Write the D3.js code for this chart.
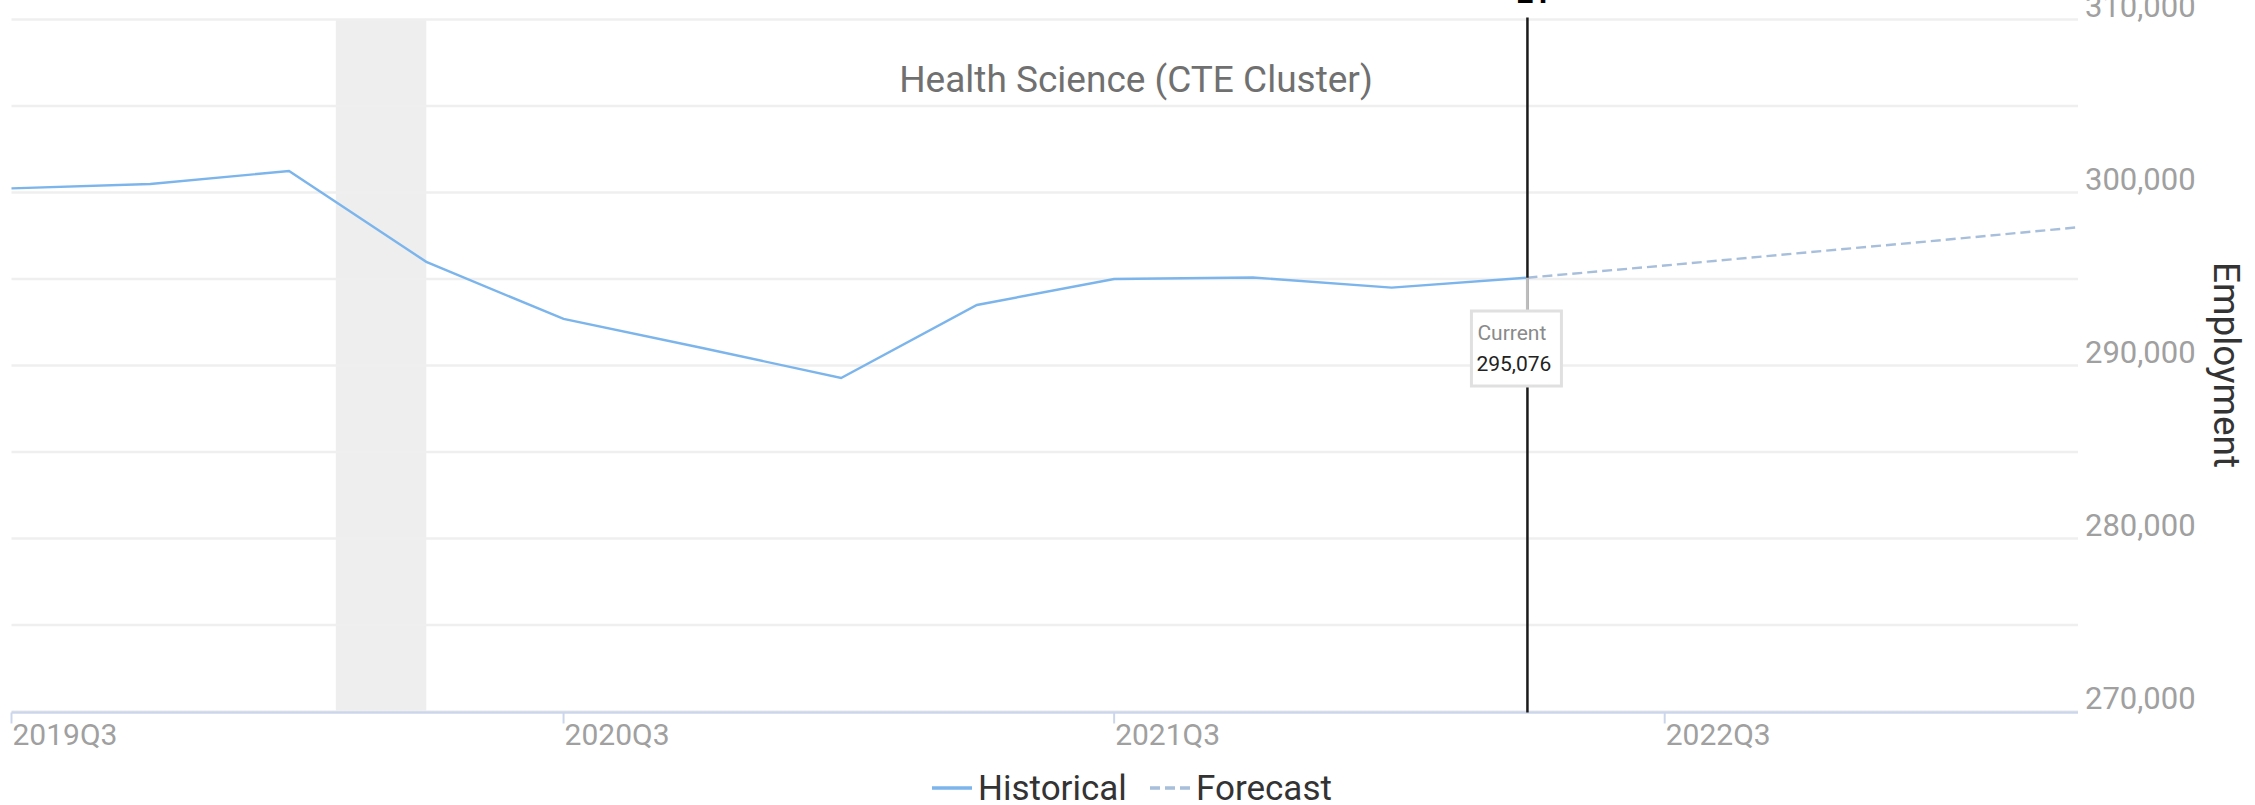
<!DOCTYPE html>
<meta charset="utf-8">
<title>Health Science (CTE Cluster)</title>
<style>
body {
  margin: 0px;
  background: #fff;
}
svg text {
  font-family: Roboto, "Open Sans", sans-serif;
}
.grid line {
  stroke: #efefef;
  stroke-width: 2.5;
}
.ytick {
  fill: #a0a0a0;
  font-size: 31px;
}
.xtick {
  fill: #a0a0a0;
  font-size: 30px;
}
path.hist {
  fill: none;
  stroke: #7cb5ec;
  stroke-width: 2.4;
}
path.fcst {
  fill: none;
  stroke: #a8bfdc;
  stroke-width: 2.4;
  stroke-dasharray: 10, 5;
}
</style>
<script src="https://d3js.org/d3.v7.min.js"></script>
<body>
<script>
var width = 2255, height = 805;

// historical quarters and employment
var histQuarters = ["2019Q3", "2019Q4", "2020Q1", "2020Q2", "2020Q3", "2020Q4",
                    "2021Q1", "2021Q2", "2021Q3", "2021Q4", "2022Q1", "2022Q2"];
var histValues = [300240, 300490, 301240, 295990, 292690, 291010,
                  289280, 293500, 295000, 295090, 294500, 295076];
// forecast continues from the current quarter
var fcstQuarters = ["2022Q2", "2022Q3", "2022Q4", "2023Q1", "2023Q2"];
var fcstValues = [295076, 295780, 296520, 297250, 297990];

var yTicks = [270000, 280000, 290000, 300000, 310000];
var gridTicks = [270000, 275000, 280000, 285000, 290000, 295000, 300000, 305000, 310000];
var xTickLabels = ["2019Q3", "2020Q3", "2021Q3", "2022Q3"];
var currentQuarter = "2022Q2";
var currentValue = 295076;

function qDate(q) {
  return new Date(+q.slice(0, 4), (+q.slice(5) - 1) * 3, 1);
}

var plotL = 11.5, plotR = 2078, plotT = 19.5, plotB = 711.5;

var x = d3.scaleTime()
    .domain([qDate("2019Q3"), qDate("2023Q2")])
    .range([plotL, plotR]);
var y = d3.scaleLinear()
    .domain([270000, 310000])
    .range([plotB, plotT]);

var svg = d3.select("body").append("svg")
    .attr("width", width)
    .attr("height", height);

// recession band (Feb - Apr 2020)
svg.append("rect")
    .attr("x", x(new Date(2020, 1, 1)))
    .attr("y", plotT)
    .attr("width", x(new Date(2020, 3, 1)) - x(new Date(2020, 1, 1)))
    .attr("height", plotB - plotT)
    .attr("fill", "#eeeeee");

// grid
svg.append("g").attr("class", "grid")
  .selectAll("line")
    .data(gridTicks)
  .enter().append("line")
    .attr("x1", plotL)
    .attr("x2", plotR)
    .attr("y1", function(d) { return y(d); })
    .attr("y2", function(d) { return y(d); });

// y labels on the right, sitting on the grid line
svg.selectAll("text.ytick")
    .data(yTicks)
  .enter().append("text")
    .attr("class", "ytick")
    .attr("x", 2085)
    .attr("y", function(d) { return y(d) - 3; })
    .text(d3.format(","));

svg.append("text")
    .attr("transform", "translate(2214,365) rotate(90)")
    .attr("text-anchor", "middle")
    .attr("fill", "#333")
    .style("font-size", "37px")
    .text("Employment");

// x axis
svg.append("line")
    .attr("x1", plotL).attr("x2", plotR)
    .attr("y1", plotB + 1).attr("y2", plotB + 1)
    .attr("stroke", "#ccd6eb")
    .attr("stroke-width", 2.5);

var xt = svg.selectAll("g.xt")
    .data(xTickLabels)
  .enter().append("g")
    .attr("transform", function(d) { return "translate(" + x(qDate(d)) + ",0)"; });
xt.append("line")
    .attr("y1", plotB + 1).attr("y2", plotB + 12)
    .attr("stroke", "#ccd6eb")
    .attr("stroke-width", 2);
xt.append("text")
    .attr("class", "xtick")
    .attr("x", 1)
    .attr("y", 745)
    .text(function(d) { return d; });

// title
svg.append("text")
    .attr("x", 1136)
    .attr("y", 92)
    .attr("text-anchor", "middle")
    .attr("fill", "#707070")
    .style("font-size", "37px")
    .text("Health Science (CTE Cluster)");

// lines
var line = d3.line()
    .x(function(d) { return x(qDate(d[0])); })
    .y(function(d) { return y(d[1]); });

svg.append("path")
    .attr("class", "fcst")
    .attr("d", line(d3.zip(fcstQuarters, fcstValues)));
svg.append("path")
    .attr("class", "hist")
    .attr("d", line(d3.zip(histQuarters, histValues)));

// current marker
var cx = x(qDate(currentQuarter)), cy = y(currentValue);
svg.append("line")
    .attr("x1", cx).attr("x2", cx)
    .attr("y1", plotT - 2).attr("y2", plotB + 1)
    .attr("stroke", "#1a1a1a")
    .attr("stroke-width", 2.5);
svg.append("text")
    .attr("x", cx + 7)
    .attr("y", 3)
    .attr("text-anchor", "middle")
    .attr("fill", "#000")
    .style("font-size", "30px")
    .style("font-weight", "bold")
    .text("2Y");

var boxL = cx - 56, boxT = 311, boxW = 90, boxH = 75;
svg.append("line")
    .attr("x1", cx).attr("x2", cx)
    .attr("y1", cy).attr("y2", boxT)
    .attr("stroke", "#bdbdbd")
    .attr("stroke-width", 3);
svg.append("rect")
    .attr("x", boxL).attr("y", boxT)
    .attr("width", boxW).attr("height", boxH)
    .attr("fill", "#fff")
    .attr("stroke", "#e0e0e0")
    .attr("stroke-width", 3);
svg.append("text")
    .attr("x", boxL + 6).attr("y", boxT + 29)
    .attr("fill", "#8a8a8a")
    .style("font-size", "21px")
    .text("Current");
svg.append("text")
    .attr("x", boxL + 5).attr("y", boxT + 60)
    .attr("fill", "#222")
    .style("font-size", "21px")
    .text(d3.format(",")(currentValue));

// legend
var legend = [
  {name: "Historical", cls: "hist", x0: 932},
  {name: "Forecast", cls: "fcst", x0: 1150}
];
var lg = svg.selectAll("g.legend")
    .data(legend)
  .enter().append("g")
    .attr("transform", function(d) { return "translate(" + d.x0 + ",788)"; });
lg.append("path")
    .attr("class", function(d) { return d.cls; })
    .attr("d", "M0,0H40")
    .style("stroke-width", 3.5);
lg.append("text")
    .attr("x", 46)
    .attr("y", 12)
    .attr("fill", "#333")
    .style("font-size", "35px")
    .text(function(d) { return d.name; });
</script>
